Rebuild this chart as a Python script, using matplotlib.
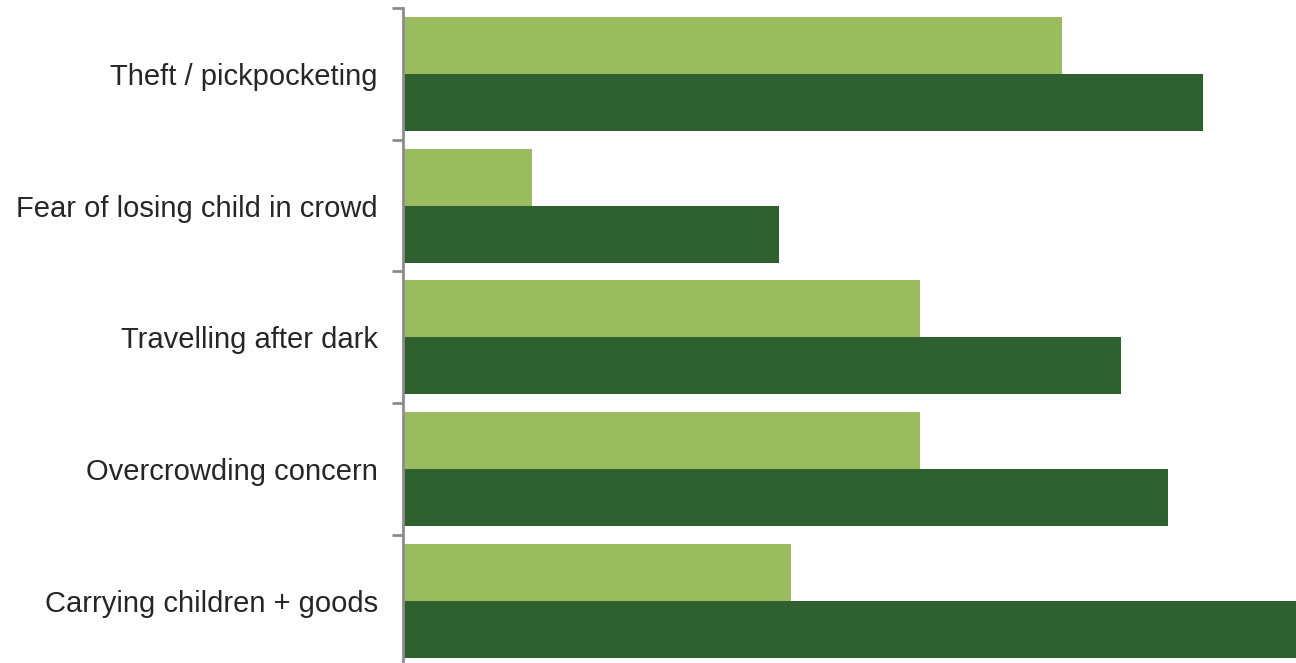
# Barras horizontales agrupadas: dos series por categoria
import numpy as np
import matplotlib.pyplot as plt

plt.rcParams['font.family'] = ['Liberation Sans', 'DejaVu Sans']

# Datos
categorias = [
    "Theft / pickpocketing",
    "Fear of losing child in crowd",
    "Travelling after dark",
    "Overcrowding concern",
    "Carrying children + goods",
]
serie_clara = [73.8, 14.4, 57.9, 57.9, 43.4]
serie_oscura = [89.6, 42.1, 80.4, 85.7, 100.0]

color_claro = "#9BBB5F"
color_oscuro = "#2E5F2F"

fig = plt.figure(figsize=(12.96, 6.63), dpi=100)
ax = fig.add_axes([403 / 1296, -3.5 / 663, 1 - 403 / 1296, 1 - 4.5 / 663])

y = np.arange(len(categorias))
alto = 0.433
ax.barh(y - alto / 2, serie_clara, height=alto, color=color_claro)
ax.barh(y + alto / 2, serie_oscura, height=alto, color=color_oscuro)

ax.set_xlim(0, 100)
ax.set_ylim(len(categorias) - 0.5, -0.5)

# Marcas en los limites de cada categoria, etiquetas en el centro
ax.set_yticks(np.arange(len(categorias) + 1) - 0.5)
ax.set_yticklabels([])
ax.set_yticks(y, minor=True)
ax.set_yticklabels(categorias, minor=True, fontsize=21, color="#262626")
ax.tick_params(axis="y", which="major", length=8, width=2, color="#8C8C8C")
ax.tick_params(axis="y", which="minor", length=0, pad=18)

ax.set_xticks([])
for lado in ["top", "right", "bottom"]:
    ax.spines[lado].set_visible(False)
ax.spines["left"].set_color("#8C8C8C")
ax.spines["left"].set_linewidth(2)

plt.savefig("out.png", dpi=100)
plt.close()
